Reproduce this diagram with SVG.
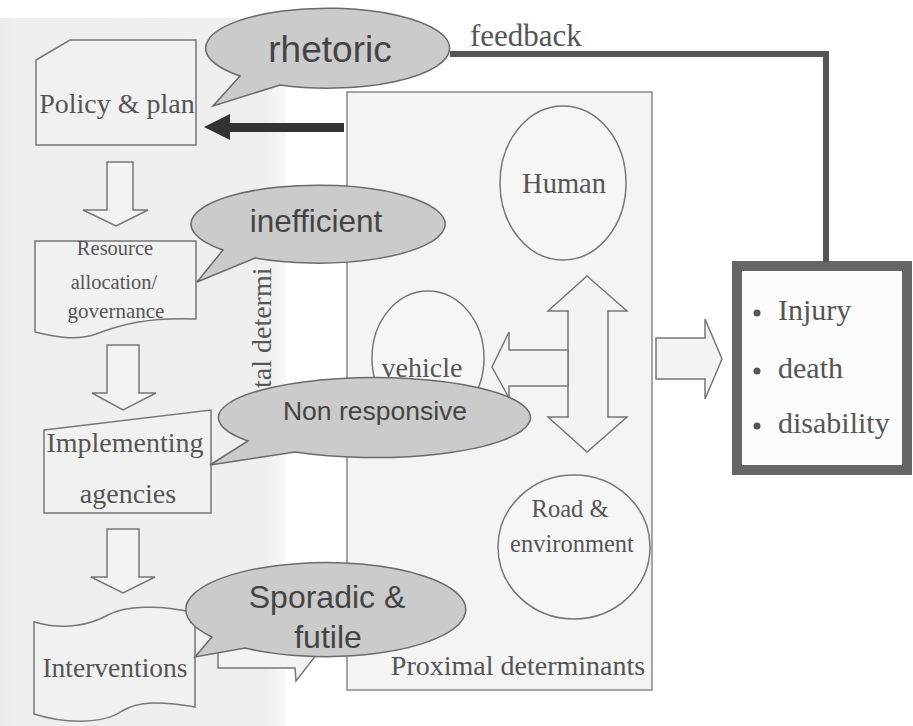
<svg xmlns="http://www.w3.org/2000/svg" width="913" height="726" viewBox="0 0 913 726">
<defs>
<linearGradient id="bg" x1="0" y1="0" x2="1" y2="0">
<stop offset="0" stop-color="#ebebeb"/>
<stop offset="0.05" stop-color="#eeeeee"/>
<stop offset="0.93" stop-color="#efefef"/>
<stop offset="1" stop-color="#f8f8f8"/>
</linearGradient>
<style>
.box{fill:#f1f1f1;stroke:#777;stroke-width:1.5}
.hol{fill:#f3f3f3;stroke:#777;stroke-width:1.5}
.ser{font-family:"Liberation Serif","Times New Roman",serif;fill:#555}
.san{font-family:"Liberation Sans",Arial,sans-serif;fill:#444}
.bub{fill:#cbcbcb;stroke:#6a6a6a;stroke-width:1.5}
.circ{fill:#f6f6f6;stroke:#777;stroke-width:1.5}
</style>
</defs>
<rect x="0" y="18" width="286" height="708" fill="url(#bg)"/>

<g id="proximal">
<rect x="347" y="92" width="305" height="598" fill="#f4f4f4" stroke="#888" stroke-width="1.5"/>
<text class="ser" x="518" y="675" font-size="28" text-anchor="middle">Proximal determinants</text>
</g>

<g id="human">
<ellipse class="circ" cx="563" cy="183" rx="63" ry="77"/>
<text class="ser" x="564" y="193" font-size="28.5" text-anchor="middle">Human</text>
</g>

<g id="vehicle">
<ellipse class="circ" cx="428" cy="358" rx="56" ry="67"/>
<text class="ser" x="422" y="377" font-size="28" text-anchor="middle">vehicle</text>
</g>

<g id="road">
<ellipse class="circ" cx="574" cy="547" rx="76" ry="72"/>
<text class="ser" x="570" y="517" font-size="24.5" text-anchor="middle">Road &amp;</text>
<text class="ser" x="572" y="552" font-size="24.5" text-anchor="middle">environment</text>
</g>

<g id="policy">
<path class="box" d="M36,60 L70,40 L196,40 L196,145 L36,145 Z"/>
<text class="ser" x="117" y="113" font-size="28" text-anchor="middle">Policy &amp; plan</text>
</g>

<g id="resource">
<path class="box" d="M35,241 L196,241 L196,319 C150,317 122,324 96,334 C76,341 56,337 35,332 Z"/>
<text class="ser" x="115" y="255" font-size="20.5" text-anchor="middle">Resource</text>
<text class="ser" x="114" y="289" font-size="20.5" text-anchor="middle">allocation/</text>
<text class="ser" x="116" y="318" font-size="21" text-anchor="middle">governance</text>
</g>

<g id="implementing">
<path class="box" d="M44,430 L211,410 L211,513 L44,513 Z"/>
<text class="ser" x="125" y="452" font-size="28" text-anchor="middle">Implementing</text>
<text class="ser" x="128" y="503" font-size="28" text-anchor="middle">agencies</text>
</g>

<g id="interventions">
<path class="box" d="M34,622 C66,631 92,624 108,615 C124,606 160,604 195,613 L195,707 C162,701 138,701 122,711 C102,725 62,723 34,714 Z"/>
<text class="ser" x="115" y="677" font-size="27.5" text-anchor="middle">Interventions</text>
</g>

<g id="outcomes">
<rect x="737" y="266" width="170" height="204" fill="#fcfcfc" stroke="#666" stroke-width="10"/>
<circle cx="757" cy="313" r="3.5" fill="#555"/>
<circle cx="757" cy="371" r="3.5" fill="#555"/>
<circle cx="757" cy="426" r="3.5" fill="#555"/>
<text class="ser" x="778" y="320" font-size="30">Injury</text>
<text class="ser" x="778" y="378" font-size="30">death</text>
<text class="ser" x="778" y="433" font-size="30">disability</text>
</g>

<g id="distal-label">
<text class="ser" transform="translate(271,388) rotate(-90)" font-size="28">tal determi</text>
</g>

<g id="connectors">
<path class="hol" d="M107,162 L133,162 L133,210 L148,210 L116,226 L83,210 L107,210 Z"/>
<path class="hol" d="M107,345 L139,345 L139,393 L156,393 L123,410 L92,393 L107,393 Z"/>
<path class="hol" d="M107,529 L139,529 L139,577 L155,577 L123,593 L91,577 L107,577 Z"/>
<path class="hol" d="M218,645 L218,668 L295,668 L296,681 L320,650 Z"/>
<path class="hol" d="M587,276 L627,311 L608,311 L608,417 L627,417 L587,452 L548,417 L568,417 L568,311 L548,311 Z"/>
<path class="hol" d="M568,350 L509,350 L509,332 L492,367 L509,398 L509,386 L568,386 Z"/>
<path class="hol" d="M656,338 L705,338 L705,319 L722,359 L705,399 L705,379 L656,379 Z"/>
<path d="M344,123 L230,123 L230,114 L204,127 L230,140 L230,132 L344,132 Z" fill="#333"/>
<path d="M450,54 L826,54 L826,262" fill="none" stroke="#555" stroke-width="6"/>
<text class="ser" x="470" y="46" font-size="31">feedback</text>
</g>

<g id="rhetoric">
<path class="bub" d="M280,85 A122,40 0 1 0 240,76 L213,106 Z"/>
<text class="san" x="330" y="62" font-size="37" text-anchor="middle">rhetoric</text>
</g>

<g id="inefficient">
<path class="bub" d="M255,258 A127,39 0 1 0 223,250 L197,282 Z"/>
<text class="san" x="316" y="232" font-size="31.5" text-anchor="middle">inefficient</text>
</g>

<g id="nonresponsive">
<path class="bub" d="M295,452 A156,40 0 1 0 248,441 L210,465 Z"/>
<text class="san" x="375" y="420" font-size="26.5" text-anchor="middle">Non responsive</text>
</g>

<g id="sporadic">
<path class="bub" d="M245,648 A140,47 0 1 0 212,637 L195,657 Z"/>
<text class="san" x="327" y="608" font-size="32" text-anchor="middle">Sporadic &amp;</text>
<text class="san" x="328" y="648" font-size="32" text-anchor="middle">futile</text>
</g>
</svg>
